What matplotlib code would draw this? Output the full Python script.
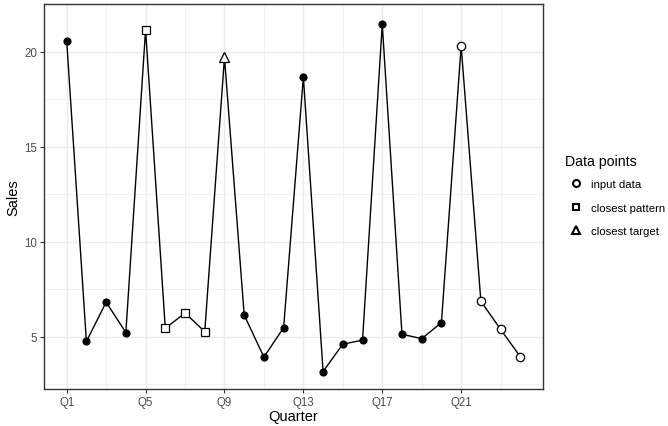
import numpy as np
import matplotlib.pyplot as plt
from matplotlib.lines import Line2D

plt.rcParams['font.family'] = ['Liberation Sans', 'DejaVu Sans']

# quarter index 1..24 and sales values
quarters = np.arange(1, 25)
sales = [20.57, 4.74, 6.81, 5.21, 21.15, 5.43, 6.24, 5.26, 19.69, 6.13, 3.92, 5.47,
         18.66, 3.16, 4.60, 4.81, 21.43, 5.12, 4.89, 5.73, 20.30, 6.86, 5.38, 3.94]
# point kind per quarter: 'other' (filled, no legend), 'input', 'pattern', 'target'
kinds = (['other'] * 4 + ['pattern'] * 4 + ['target'] + ['other'] * 11 + ['input'] * 4)

tick_pos = [1, 5, 9, 13, 17, 21]
tick_labels = ['Q1', 'Q5', 'Q9', 'Q13', 'Q17', 'Q21']

fig = plt.figure(figsize=(6.68, 4.27), dpi=100)
ax = fig.add_axes([44 / 668, 37 / 427, 499 / 668, 385 / 427])

ax.plot(quarters, sales, color='black', lw=1.0, zorder=2)

styles = {
    'other': dict(marker='o', mfc='black', mec='black', ms=5),
    'input': dict(marker='o', mfc='white', mec='black', ms=6),
    'pattern': dict(marker='s', mfc='white', mec='black', ms=5.5),
    'target': dict(marker='^', mfc='white', mec='black', ms=6.5),
}
q = np.array(quarters)
s = np.array(sales)
k = np.array(kinds)
for kind, st in styles.items():
    m = k == kind
    ax.plot(q[m], s[m], ls='none', mew=0.9, zorder=3, **st)

ax.set_xlim(1 - 1.15, 24 + 1.15)
ax.set_ylim(2.24, 22.35)
ax.set_xticks(tick_pos)
ax.set_xticklabels(tick_labels)
ax.set_xticks([3, 7, 11, 15, 19, 23], minor=True)
ax.set_yticks([5, 10, 15, 20])
ax.set_yticks([2.5, 7.5, 12.5, 17.5, 22.5], minor=True)
ax.grid(which='major', color='#EBEBEB', lw=1.0, zorder=0)
ax.grid(which='minor', color='#EBEBEB', lw=0.5, zorder=0)
ax.set_axisbelow(True)
ax.tick_params(which='major', length=3, color='#333333', labelsize=8.3,
               labelcolor='#4D4D4D', width=0.8, pad=2)
ax.tick_params(which='minor', length=0)
for sp in ax.spines.values():
    sp.set_color('#333333')
    sp.set_linewidth(1.0)
ax.set_xlabel('Quarter', fontsize=10.5, labelpad=1)
ax.set_ylabel('Sales', fontsize=10.5, labelpad=3)

handles = [
    Line2D([], [], ls='none', marker='o', mfc='white', mec='black', ms=5, mew=1.5),
    Line2D([], [], ls='none', marker='s', mfc='white', mec='black', ms=5, mew=1.5),
    Line2D([], [], ls='none', marker='^', mfc='white', mec='black', ms=5.5, mew=1.5),
]
leg = fig.legend(handles, ['input data', 'closest pattern', 'closest target'],
                 title='Data points', loc='upper left', bbox_to_anchor=(565 / 668, 1 - 155 / 427),
                 frameon=False, fontsize=8.2, title_fontsize=10.2, handlelength=2.0,
                 handletextpad=0.3, labelspacing=1.2, borderaxespad=0, borderpad=0)
leg._legend_box.align = 'left'
leg._legend_box.sep = 8

fig.savefig('out.png', dpi=100)
